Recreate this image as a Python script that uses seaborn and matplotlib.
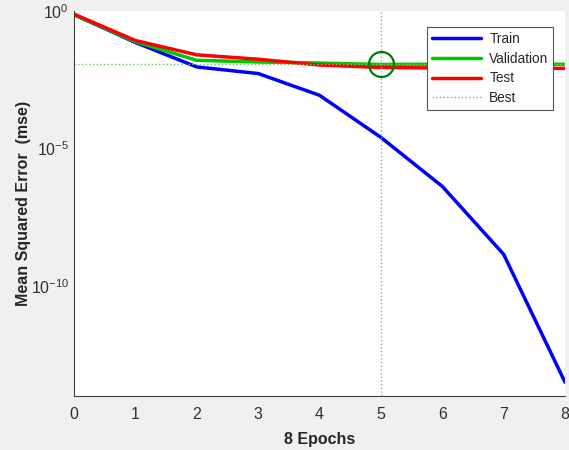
import numpy as np
import pandas as pd
import seaborn as sns
import matplotlib.pyplot as plt

# performance per epoch (log10 of mse)
epochs = [0, 1, 2, 3, 4, 5, 6, 7, 8]
train_log = [-0.14, -1.15, -2.04, -2.28, -3.07, -4.6, -6.38, -8.85, -13.5]
val_log = [-0.14, -1.12, -1.80, -1.86, -1.90, -1.95, -1.94, -1.94, -1.94]
test_log = [-0.12, -1.08, -1.60, -1.76, -1.97, -2.06, -2.08, -2.09, -2.09]
best_epoch = 5
best_log = -1.95

df = pd.DataFrame({
    "epoch": epochs * 3,
    "mse": 10 ** np.array(train_log + val_log + test_log),
    "set": ["Train"] * 9 + ["Validation"] * 9 + ["Test"] * 9,
})

sns.set_style("white")
plt.rcParams["font.family"] = ["Liberation Sans", "DejaVu Sans"]
plt.rcParams["mathtext.default"] = "regular"

fig = plt.figure(figsize=(5.69, 4.5), dpi=100, facecolor="#f0f0f0")
ax = fig.add_axes([0.130, 0.12, 0.863, 0.856])

sns.lineplot(data=df, x="epoch", y="mse", hue="set",
             palette={"Train": "#0000ff", "Validation": "#00c800", "Test": "#ff0000"},
             linewidth=2.5, ax=ax)

best_val = 10 ** best_log
ax.axvline(best_epoch, color="#6cc86c", linestyle=":", linewidth=1, label="Best")
ax.axhline(best_val, color="#6cc86c", linestyle=":", linewidth=1)
ax.plot([best_epoch], [best_val], marker="o", markersize=18, markerfacecolor="none",
        markeredgecolor="#007a00", markeredgewidth=1.6)

ax.set_yscale("log")
ax.set_xlim(0, 8)
ax.set_ylim(1e-14, 1e0)
ax.set_xticks(range(9))
ax.set_yticks([1e0, 1e-5, 1e-10])
ax.set_yticklabels(["$10^{0}$", "$10^{-5}$", "$10^{-10}$"])
ax.yaxis.set_minor_locator(plt.NullLocator())
ax.tick_params(direction="in", length=4, width=0.8, colors="#404040",
               labelcolor="#303030", labelsize=11.5)
ax.tick_params(axis="x", pad=8)

for side in ["top", "right"]:
    ax.spines[side].set_visible(False)
for side in ["left", "bottom"]:
    ax.spines[side].set_color("#404040")
    ax.spines[side].set_linewidth(0.8)

ax.set_xlabel("8 Epochs", fontsize=11.5, fontweight="bold", color="#262626", labelpad=7)
ax.set_ylabel("Mean Squared Error  (mse)", fontsize=11.5, fontweight="bold",
              color="#262626", labelpad=0)

handles, labels = ax.get_legend_handles_labels()
order = [labels.index(n) for n in ["Train", "Validation", "Test", "Best"]]
leg = ax.legend([handles[i] for i in order], [labels[i] for i in order],
                loc="upper right", bbox_to_anchor=(0.99, 0.975), fontsize=9.8,
                fancybox=False, framealpha=1, edgecolor="#555555",
                handlelength=3.6, handletextpad=0.6, borderpad=0.35, labelspacing=0.42)
leg.get_frame().set_linewidth(0.8)

fig.savefig("out.png", dpi=100, facecolor=fig.get_facecolor())
